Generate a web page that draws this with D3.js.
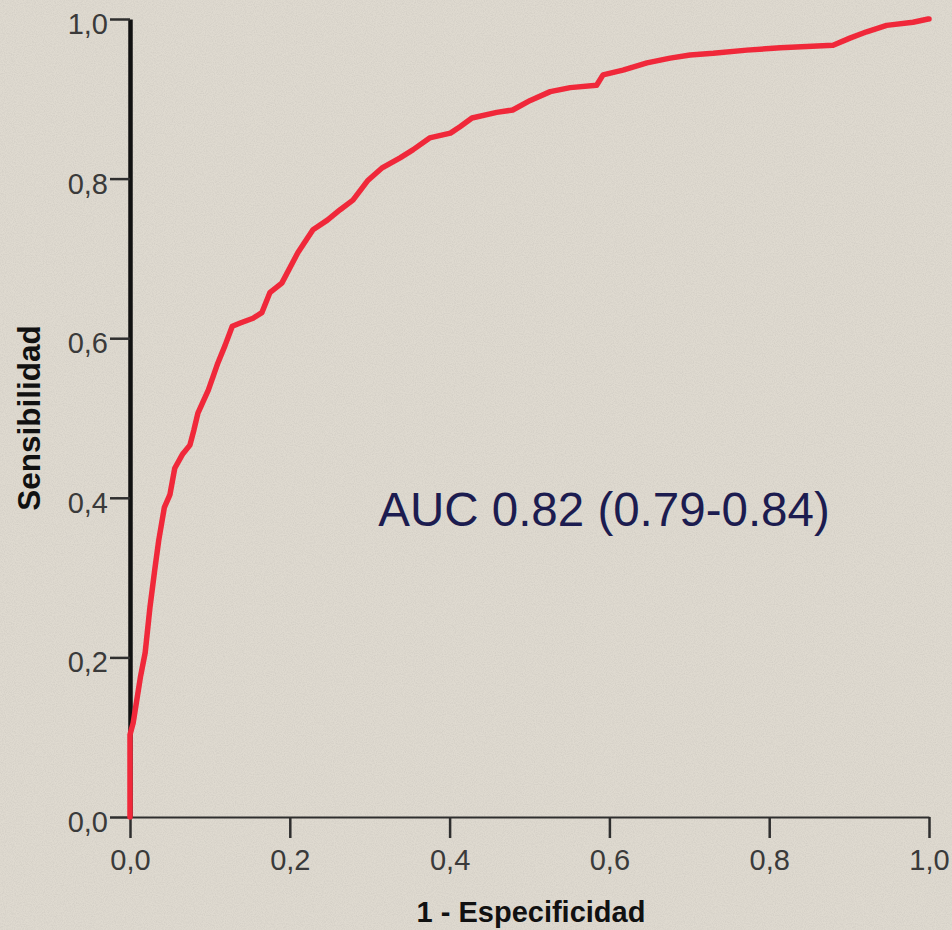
<!DOCTYPE html>
<html>
<head>
<meta charset="utf-8">
<script src="https://cdn.jsdelivr.net/npm/d3@7/dist/d3.min.js"></script>
<style>
  html, body { margin: 0; padding: 0; background: #dfdad0; }
  svg { display: block; }
</style>
</head>
<body>
<svg id="chart" width="952" height="930"></svg>
<script>
// ROC curve: 1 - specificity (fpr) and sensitivity (tpr)
const fpr = [0, 0, 0.004, 0.013, 0.019, 0.025, 0.031, 0.036, 0.043, 0.050, 0.056, 0.066, 0.075, 0.080, 0.085, 0.098, 0.110, 0.119, 0.128, 0.138, 0.154, 0.165, 0.175, 0.190, 0.210, 0.229, 0.247, 0.263, 0.279, 0.298, 0.315, 0.338, 0.354, 0.375, 0.401, 0.413, 0.428, 0.459, 0.479, 0.501, 0.526, 0.551, 0.584, 0.592, 0.617, 0.647, 0.676, 0.701, 0.730, 0.772, 0.814, 0.880, 0.901, 0.922, 0.947, 0.980, 0.999, 1.0];
const tpr = [0, 0.103, 0.118, 0.175, 0.206, 0.263, 0.310, 0.347, 0.388, 0.404, 0.437, 0.455, 0.466, 0.485, 0.506, 0.535, 0.569, 0.591, 0.615, 0.619, 0.625, 0.632, 0.657, 0.669, 0.707, 0.736, 0.748, 0.761, 0.773, 0.798, 0.813, 0.826, 0.836, 0.851, 0.857, 0.865, 0.876, 0.883, 0.886, 0.898, 0.909, 0.914, 0.917, 0.930, 0.936, 0.945, 0.951, 0.955, 0.957, 0.961, 0.964, 0.967, 0.976, 0.984, 0.992, 0.996, 1.0, 1.0];
const tickValues = [0, 0.2, 0.4, 0.6, 0.8, 1.0];
const tickLabels = ["0,0", "0,2", "0,4", "0,6", "0,8", "1,0"];
const xTitle = "1 - Especificidad";
const yTitle = "Sensibilidad";
const annotation = "AUC 0.82 (0.79-0.84)";

const svg = d3.select("#chart");
const W = 952, H = 930;
const m = { left: 130, right: 23, top: 19, bottom: 113 };

// background with subtle speckle texture
const defs = svg.append("defs");
const f = defs.append("filter").attr("id", "noise").attr("x", 0).attr("y", 0).attr("width", "100%").attr("height", "100%");
f.append("feTurbulence").attr("type", "fractalNoise").attr("baseFrequency", 0.9).attr("numOctaves", 2).attr("seed", 3).attr("result", "t");
f.append("feColorMatrix").attr("in", "t").attr("type", "matrix")
  .attr("values", "0 0 0 0 0.45  0 0 0 0 0.43  0 0 0 0 0.40  0 0 0 -1.6 1.05");
svg.append("rect").attr("width", W).attr("height", H).attr("fill", "#dfdad0");
svg.append("rect").attr("width", W).attr("height", H).attr("filter", "url(#noise)").attr("opacity", 0.3);

const x = d3.scaleLinear().domain([0, 1]).range([m.left, W - m.right]);
const y = d3.scaleLinear().domain([0, 1]).range([H - m.bottom, m.top]);

const font = "'Liberation Sans', Arial, sans-serif";

// x axis
const xAxis = d3.axisBottom(x).tickValues(tickValues).tickFormat((d, i) => tickLabels[i]).tickSize(21).tickSizeOuter(0);
const gx = svg.append("g").attr("transform", `translate(0,${y(0)})`).call(xAxis);
gx.select(".domain").attr("stroke", "#2e2e2e").attr("stroke-width", 2);
gx.selectAll(".tick line").attr("stroke", "#2e2e2e").attr("stroke-width", 2.5);
gx.selectAll(".tick text").attr("font-family", font).attr("font-size", 29).attr("fill", "#3a3a3a")
  .attr("y", 0).attr("dy", 0).attr("transform", "translate(0,53)");

// y axis
const yAxis = d3.axisLeft(y).tickValues(tickValues).tickFormat((d, i) => tickLabels[i]).tickSize(20).tickSizeOuter(0);
const gy = svg.append("g").attr("transform", `translate(${x(0)},0)`).call(yAxis);
gy.select(".domain").attr("stroke", "#111").attr("stroke-width", 4.5);
gy.selectAll(".tick line").attr("stroke", "#2e2e2e").attr("stroke-width", 2.5);
gy.selectAll(".tick text").attr("font-family", font).attr("font-size", 29).attr("fill", "#3a3a3a")
  .attr("x", -22).attr("dy", "0.5em");

// ROC curve
const pts = fpr.map((v, i) => [v, tpr[i]]);
const line = d3.line().x(d => x(d[0])).y(d => y(d[1]));
svg.append("path").datum(pts).attr("d", line)
  .attr("fill", "none").attr("stroke", "#f0283a").attr("stroke-width", 5.5)
  .attr("stroke-linejoin", "round").attr("stroke-linecap", "round");

// titles
svg.append("text").attr("x", 531).attr("y", 922)
  .attr("text-anchor", "middle").attr("font-family", font).attr("font-weight", "bold")
  .attr("font-size", 29).attr("fill", "#111").text(xTitle);
svg.append("text").attr("transform", `translate(40,${418}) rotate(-90)`)
  .attr("text-anchor", "middle").attr("font-family", font).attr("font-weight", "bold")
  .attr("font-size", 31.5).attr("fill", "#111").text(yTitle);

// annotation
svg.append("text").attr("x", 604).attr("y", 526).attr("text-anchor", "middle")
  .attr("font-family", font).attr("font-size", 47.5).attr("fill", "#1c1c50").text(annotation);
</script>
</body>
</html>
